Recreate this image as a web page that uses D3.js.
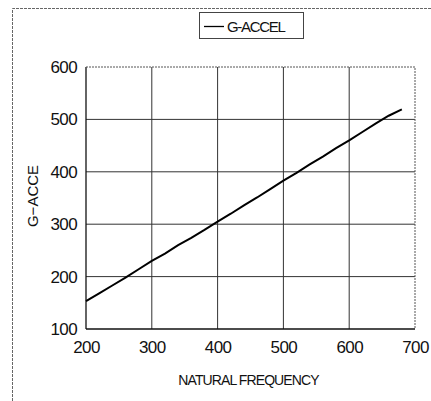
<!DOCTYPE html>
<html><head><meta charset="utf-8">
<script src="https://cdn.jsdelivr.net/npm/d3@7"></script>
<style>
body{margin:0;background:#fff;}
text{font-family:"Liberation Sans",Arial,Helvetica,sans-serif;fill:#111;}
</style></head>
<body><svg id="c" width="431" height="401"></svg>
<script>
const freq = [200,220,240,260,280,300,320,340,360,380,400,420,440,460,480,500,520,540,560,580,600,620,640,660,680];
const gAccel = [153,168,183,198,214,230,244,260,274,289,305,320,336,351,367,383,398,414,429,445,460,476,492,507,519];
const xTicks = [200,300,400,500,600,700];
const yTicks = [100,200,300,400,500,600];
const seriesName = "G-ACCEL";
const xTitle = "NATURAL FREQUENCY";
const yTitle = "G\u2212ACCE";

const svg = d3.select("#c");
const L=86,R=415,T=67,B=329;
const x = d3.scaleLinear().domain([200,700]).range([L,R]);
const y = d3.scaleLinear().domain([100,600]).range([B,T]);

// outer frame (open to right/bottom)
svg.append("path").attr("d","M12.5,401 V8.5 H431").attr("fill","none")
  .attr("stroke","#666").attr("stroke-width",1).attr("stroke-dasharray","3,1");

// grid
svg.append("g").selectAll("line").data(xTicks.slice(1,-1)).join("line")
  .attr("x1",d=>x(d)).attr("x2",d=>x(d)).attr("y1",T).attr("y2",B)
  .attr("stroke","#333").attr("stroke-width",1);
svg.append("g").selectAll("line").data(yTicks.slice(1,-1)).join("line")
  .attr("y1",d=>y(d)).attr("y2",d=>y(d)).attr("x1",L).attr("x2",R)
  .attr("stroke","#333").attr("stroke-width",1);
// plot border: left & bottom solid, top & right dotted
svg.append("line").attr("x1",L).attr("x2",L).attr("y1",T).attr("y2",B).attr("stroke","#111").attr("stroke-width",1.3);
svg.append("line").attr("x1",L).attr("x2",R).attr("y1",B).attr("y2",B).attr("stroke","#111").attr("stroke-width",1.3);
svg.append("path").attr("d",`M${L},${T}H${R}V${B}`).attr("fill","none")
  .attr("stroke","#555").attr("stroke-width",1).attr("stroke-dasharray","2,1");

// axes labels via d3 axes
const xAxis = svg.append("g").attr("transform",`translate(0,${B+5})`)
  .call(d3.axisBottom(x).tickValues(xTicks).tickSize(0).tickPadding(4));
xAxis.select(".domain").remove();
xAxis.selectAll("text").attr("font-size",17).attr("letter-spacing","-0.6").attr("dy","0.9em")
  .attr("font-family","'Liberation Sans',Arial,sans-serif").attr("fill","#111");
const yAxis = svg.append("g").attr("transform",`translate(${L-9},0)`)
  .call(d3.axisLeft(y).tickValues(yTicks).tickSize(0).tickPadding(0));
yAxis.select(".domain").remove();
yAxis.selectAll("text").attr("font-size",17).attr("letter-spacing","-0.6")
  .attr("font-family","'Liberation Sans',Arial,sans-serif").attr("fill","#111");

// titles
svg.append("text").attr("x",(L+R)/2-2).attr("y",385).attr("text-anchor","middle")
  .attr("font-size",14).attr("letter-spacing","-0.9").text(xTitle);
svg.append("text").attr("transform","translate(38,196) rotate(-90)").attr("text-anchor","middle")
  .attr("font-size",15).attr("letter-spacing","0").text(yTitle);

// line
svg.append("path").datum(freq.map((f,i)=>[f,gAccel[i]]))
  .attr("d",d3.line().x(d=>x(d[0])).y(d=>y(d[1])))
  .attr("fill","none").attr("stroke","#000").attr("stroke-width",2);

// legend
svg.append("rect").attr("x",199.5).attr("y",12.5).attr("width",104).attr("height",26)
  .attr("fill","#fff").attr("stroke","#444").attr("stroke-width",1);
svg.append("line").attr("x1",204).attr("x2",224).attr("y1",26.5).attr("y2",26.5).attr("stroke","#000").attr("stroke-width",1.3);
svg.append("text").attr("x",227).attr("y",32).attr("font-size",15).attr("letter-spacing","-1.3").text(seriesName);
</script></body></html>
